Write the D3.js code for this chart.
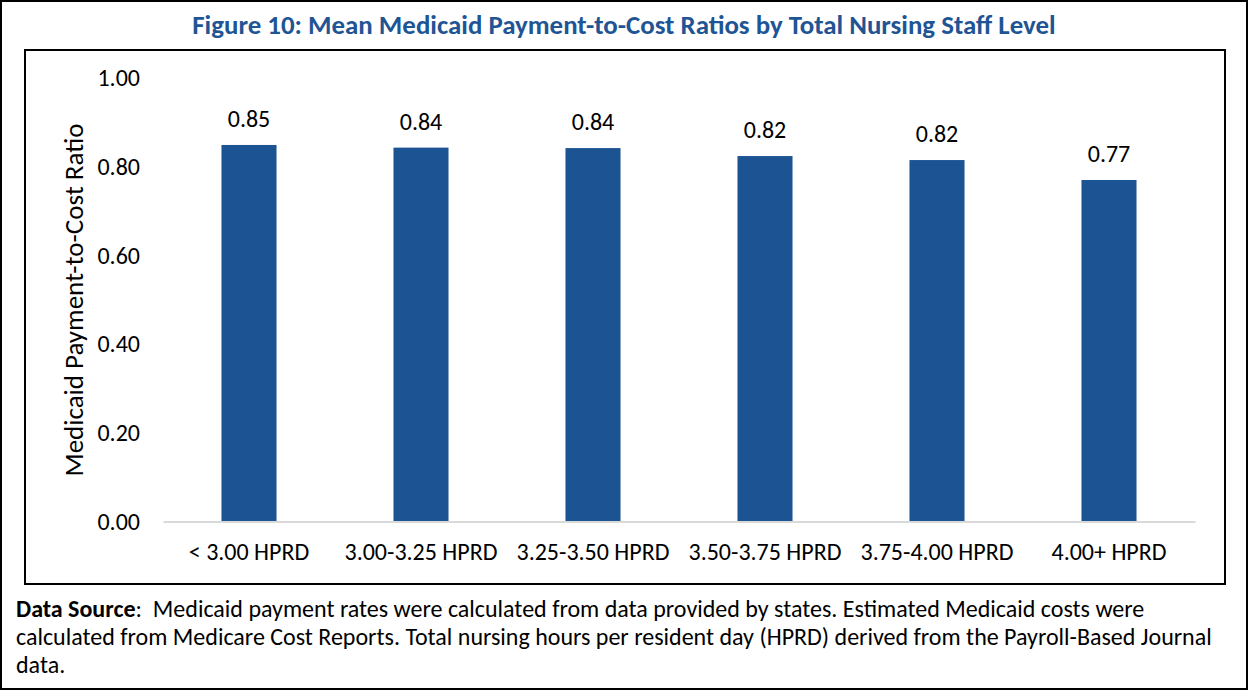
<!DOCTYPE html>
<html lang="en">
<head>
    <meta charset="UTF-8">
    <title>Figure 10</title>
    <script src="https://d3js.org/d3.v7.min.js"></script>
    <style>
        body { margin: 0; background: #fff; }
        svg { display: block; font-family: Carlito, Calibri, Lato, sans-serif; }
        svg text { fill: #000; }
    </style>
</head>
<body>
    <div id="chart"></div>
    <script>
        const categories = ["< 3.00 HPRD", "3.00-3.25 HPRD", "3.25-3.50 HPRD", "3.50-3.75 HPRD", "3.75-4.00 HPRD", "4.00+ HPRD"];
        const ratios = [0.849, 0.843, 0.842, 0.824, 0.815, 0.770];
        const valueLabels = ["0.85", "0.84", "0.84", "0.82", "0.82", "0.77"];
        const yTicks = [0, 0.2, 0.4, 0.6, 0.8, 1.0];

        const W = 1249, H = 691;
        const fontBody = 24;
        const svg = d3.select("#chart").append("svg")
            .attr("width", W)
            .attr("height", H);

        // outer frame and chart frame
        svg.append("rect").attr("x", 1).attr("y", 1).attr("width", W - 3).attr("height", H - 3)
            .attr("fill", "none").attr("stroke", "#000").attr("stroke-width", 2);
        svg.append("rect").attr("x", 25).attr("y", 50).attr("width", 1200).attr("height", 534)
            .attr("fill", "#fff").attr("stroke", "#000").attr("stroke-width", 2);

        svg.append("text")
            .attr("x", 624).attr("y", 34)
            .attr("text-anchor", "middle")
            .attr("font-size", 26.9).attr("font-weight", "bold")
            .style("fill", "#1f5594")
            .text("Figure 10: Mean Medicaid Payment-to-Cost Ratios by Total Nursing Staff Level");

        const x = d3.scaleBand().domain(categories).range([163, 1195])
            .paddingInner(0.68).paddingOuter(0.34);
        const y = d3.scaleLinear().domain([0, 1]).range([521.5, 78]);

        const yAxis = svg.append("g")
            .attr("transform", "translate(163,0)")
            .call(d3.axisLeft(y).tickValues(yTicks).tickFormat(d3.format(".2f")).tickSize(0).tickPadding(23))
            .attr("font-family", null).attr("font-size", fontBody);
        yAxis.select(".domain").remove();

        svg.selectAll(".bar")
            .data(ratios)
            .join("rect")
            .attr("class", "bar")
            .attr("x", (d, i) => x(categories[i]))
            .attr("width", x.bandwidth())
            .attr("y", d => y(d))
            .attr("height", d => y(0) - y(d))
            .attr("fill", "#1b5393");

        svg.selectAll(".label")
            .data(ratios)
            .join("text")
            .attr("class", "label")
            .attr("x", (d, i) => x(categories[i]) + x.bandwidth() / 2)
            .attr("y", d => y(d) - 18)
            .attr("text-anchor", "middle")
            .attr("font-size", fontBody)
            .text((d, i) => valueLabels[i]);

        const xAxis = svg.append("g")
            .attr("transform", "translate(0," + y(0) + ")")
            .call(d3.axisBottom(x).tickSize(0).tickPadding(21))
            .attr("font-family", null).attr("font-size", fontBody);
        xAxis.select(".domain").attr("stroke", "#d9d9d9").attr("stroke-width", 2);

        svg.append("text")
            .attr("transform", "translate(83,300) rotate(-90)")
            .attr("text-anchor", "middle")
            .attr("font-size", 27)
            .text("Medicaid Payment-to-Cost Ratio");

        const noteLines = [
            ["Data Source", ":  Medicaid payment rates were calculated from data provided by states. Estimated Medicaid costs were"],
            ["", "calculated from Medicare Cost Reports. Total nursing hours per resident day (HPRD) derived from the Payroll-Based Journal"],
            ["", "data."]
        ];
        noteLines.forEach((ln, i) => {
            const t = svg.append("text")
                .attr("x", 16).attr("y", 617 + i * 28)
                .attr("font-size", fontBody)
                .style("white-space", "pre");
            if (ln[0]) t.append("tspan").attr("font-weight", "bold").text(ln[0]);
            t.append("tspan").text(ln[1]);
        });
    </script>
</body>
</html>
